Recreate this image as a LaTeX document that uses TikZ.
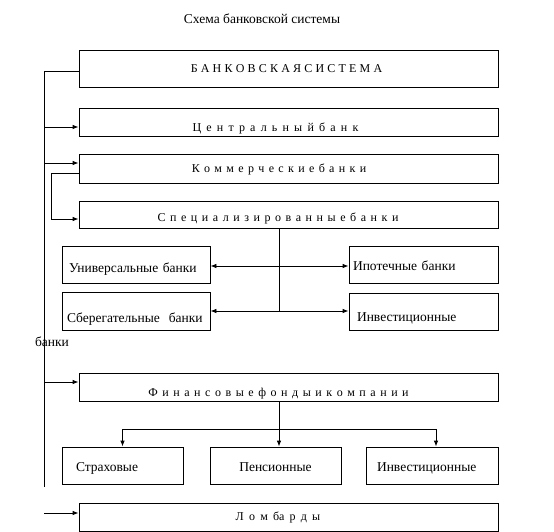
\documentclass[tikz,border=0pt]{standalone}
\usepackage{fontspec}
\setmainfont{Liberation Serif}
\usepackage{tikz}
\usetikzlibrary{arrows.meta,calc}
\tikzset{
  box/.style={rectangle,draw=black,line width=0.8pt,fill=white,align=center,
              font=\fontsize{13.5}{15}\selectfont,inner xsep=2pt,inner ysep=0pt,
              text depth=3pt},
  wbox/.style={box,minimum width=419pt,font=\fontsize{12}{14}\selectfont,gap=5.2pt},
  gap/.style={execute at begin node={\spaceskip=#1\relax}},
  sbox/.style={box,minimum height=37pt},
  lbox/.style={sbox,align=left},
  lower/.style={text height=#1},
  fl/.style={-{Latex[length=6pt,width=4.5pt]},draw=black,line width=0.8pt},
  ln/.style={draw=black,line width=0.8pt},
}
\begin{document}
\begin{tikzpicture}[x=1pt,y=-1pt]
  \useasboundingbox (0,0) rectangle (554,532);
  % ── title ──
  \node[font=\fontsize{13.5}{15}\selectfont] (title) at (262,19) {Схема банковской системы};
  % ── main column of wide boxes ──
  \node[wbox,gap=3.2pt,minimum height=37pt,lower=11pt] (sys) at (288.5,68.5) {Б А Н К О В С К А Я С И С Т Е М А\hspace*{4pt}};
  \node[wbox,minimum height=28pt,lower=22pt] (cb)   at (288.5,122)  {Ц е н т р а л ь н ы й б а н к\hspace*{26pt}};
  \node[wbox,gap=4.35pt,minimum height=29pt,lower=11pt] (kom)  at (288.5,168.5){К о м м е р ч е с к и е б а н к и\hspace*{19pt}};
  \node[wbox,gap=4.55pt,minimum height=27pt,lower=17pt] (spec) at (288.5,214.5){С п е ц и а л и з и р о в а н н ы е б а н к и\hspace*{21pt}};
  \node[wbox,gap=4.55pt,minimum height=28pt,lower=21pt] (fin)  at (288.5,387)  {Ф и н а н с о в ы е ф о н д ы и к о м п а н и и\hspace*{20pt}};
  \node[wbox,minimum height=28pt,lower=9pt]  (lomb) at (288.5,517)  {Л о м ба р д ы\hspace*{21pt}};
  % ── specialised banks ──
  \node[lbox,inner xsep=7pt,text width=134pt,lower=19pt] (univ) at (136,264.5)   {Универсальные банки};
  \node[lbox,inner xsep=4pt,text width=141pt,lower=15pt] (ipot) at (423.5,264.5) {Ипотечные банки};
  \node[lbox,inner xsep=5pt,text width=138pt,minimum height=38pt,lower=25pt] (sber) at (136,311) {Сберегательные\ \ банки};
  \node[lbox,inner xsep=8pt,text width=133pt,lower=23pt] (inv)  at (423.5,311.5) {Инвестиционные};
  \node[font=\fontsize{13.5}{15}\selectfont,inner sep=0pt] (bnk) at (52,342) {банки};
  % ── funds and companies ──
  \node[lbox,inner xsep=14pt,text width=93pt,lower=14pt] (str)  at (122.5,465.5) {Страховые};
  \node[sbox,minimum width=131pt,lower=14pt]             (pens) at (275.5,465.5) {Пенсионные};
  \node[lbox,inner xsep=11pt,text width=110pt,lower=14pt] (invf) at (432,465.5)  {Инвестиционные};
  % ── left spine ──
  \coordinate (spineend) at (44,487);
  \draw[ln] ($(sys.west)+(0,2.5)$) -| (spineend);
  \foreach \t/\dy in {cb/5,kom/-5.5,fin/-5}{
    \draw[fl] ($(spineend |- \t.west)+(0,\dy)$) -- ($(\t.west)+(0,\dy)$);
  }
  \draw[fl] ($(spineend |- lomb.west)+(0,-4)$) -- ($(lomb.west)+(0,-4)$);
  % commercial -> specialised
  \draw[fl] ($(kom.west)+(0,4.5)$) -- ++(-27,0) |- ($(spec.west)+(0,4.5)$);
  % ── specialised fork ──
  \coordinate (sfork) at ($(spec.south)+(-9.5,0)$);
  \draw[ln] (sfork) -- (sfork |- sber.east);
  \draw[fl] ($(sfork |- univ.east)+(0,1.5)$) -- ($(univ.east)+(0,1.5)$);
  \draw[fl] ($(sfork |- univ.east)+(0,1.5)$) -- ($(ipot.west)+(0,1.5)$);
  \draw[fl] (sfork |- sber.east) -- (sber.east);
  \draw[fl] (sfork |- sber.east) -- (inv.west |- sber.east);
  % ── funds fork ──
  \coordinate (ffork) at ($(fin.south)+(-9.5,28)$);
  \draw[ln] ($(fin.south)+(-9.5,0)$) -- (ffork);
  \draw[fl] (ffork) -| (str.north);
  \draw[fl] (ffork) -- (ffork |- pens.north);
  \draw[fl] (ffork) -| ($(invf.north)+(4,0)$);
\end{tikzpicture}
\end{document}
